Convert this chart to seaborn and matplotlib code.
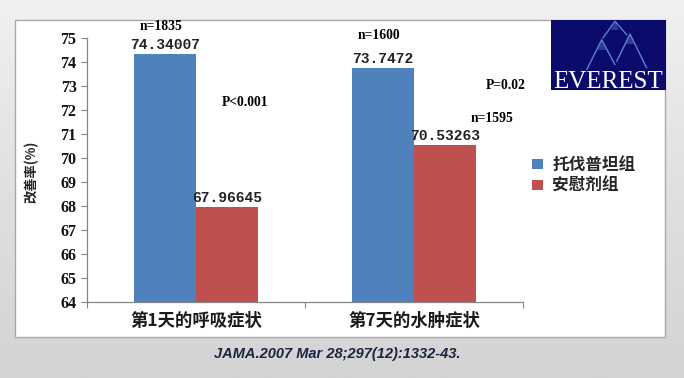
import numpy as np
import pandas as pd
import matplotlib
matplotlib.use("Agg")
import matplotlib.pyplot as plt
import matplotlib.patches as mpatches
from matplotlib.colors import LinearSegmentedColormap
import seaborn as sns

# ---------------- data ----------------
categories = ['第1天的呼吸症状', '第7天的水肿症状']
groups = ['托伐普坦组', '安慰剂组']
tolvaptan_values = [74.34007, 73.7472]
placebo_values = [67.96645, 70.53263]
tolvaptan_n = ['n=1835', 'n=1600']
placebo_n = ['', 'n=1595']
p_labels = ['P<0.001', 'P=0.02']
y_ticks = list(range(64, 76))
y_label = '改善率(%)'
citation = 'JAMA.2007 Mar 28;297(12):1332-43.'
logo_text = 'EVEREST'

df = pd.DataFrame({
    'category': categories * 2,
    'group': [groups[0]] * len(categories) + [groups[1]] * len(categories),
    'value': tolvaptan_values + placebo_values,
})

# ---------------- style ----------------
sns.set_theme(style='white')
plt.rcParams['font.family'] = ['Noto Sans CJK SC', 'DejaVu Sans']

W, H = 684, 378
fig = plt.figure(figsize=(W / 100, H / 100), dpi=100)

def fx(px):
    return px / W

def fy(py):
    return 1 - py / H

# background gradient
bg = fig.add_axes([0, 0, 1, 1], zorder=-10)
grad = np.linspace(0, 1, 256).reshape(-1, 1)
cmap = LinearSegmentedColormap.from_list('bg', ['#f1f1f1', '#e0e0e0', '#d3d3d3'])
bg.imshow(grad, aspect='auto', cmap=cmap, extent=[0, 1, 0, 1], origin='upper')
bg.set_axis_off()

# white panel
panel = mpatches.Rectangle((fx(15), fy(337)), fx(665) - fx(15), fy(20) - fy(337),
                           transform=fig.transFigure, facecolor='white',
                           edgecolor='#a8a8a8', linewidth=1.0, zorder=-5)
fig.patches.append(panel)

# main axes
ax = fig.add_axes([fx(87), fy(302), fx(523) - fx(87), fy(38) - fy(302)])
ax.set_facecolor('none')

blue = '#4F81BD'
red = '#C0504D'
sns.barplot(data=df, x='category', y='value', hue='group', order=categories,
            hue_order=groups, palette=[blue, red], width=0.57, saturation=1,
            linewidth=0, errorbar=None, ax=ax)

ax.set_ylim(64, 75)
ax.set_xlim(-0.5, len(categories) - 0.5)
ax.set_yticks(y_ticks)
ax.set_yticklabels([str(t) for t in y_ticks], family='Liberation Serif',
                   fontweight='bold', fontsize=11.5)
ax.set_xticks(range(len(categories)))
ax.set_xticklabels(categories, fontsize=12.5, fontweight='bold', color='#1a1a1a')
ax.set_xticks(np.arange(-0.5, len(categories)), minor=True)
ax.tick_params(axis='x', which='major', length=0, pad=7)
ax.tick_params(axis='x', which='minor', length=4, width=0.8, color='#868686',
               direction='out', bottom=True)
ax.tick_params(axis='y', which='major', length=4.5, width=0.8, color='#868686',
               direction='out', left=True, pad=3.0, labelcolor='#111111')
for side in ['top', 'right']:
    ax.spines[side].set_visible(False)
for side in ['left', 'bottom']:
    ax.spines[side].set_color('#868686')
    ax.spines[side].set_linewidth(0.9)
ax.set_xlabel('')
ax.set_ylabel(y_label, fontsize=9.5, fontweight='bold', va='center', color='#222222')
ax.yaxis.set_label_coords((31 - 87) / 436, (302 - 172) / 264)

# value labels
for cont, vals in zip(ax.containers, [tolvaptan_values, placebo_values]):
    ax.bar_label(cont, labels=[f'{v}' for v in vals], padding=1.5,
                 family='Liberation Mono', fontweight='bold', fontsize=10.5,
                 color='#222222')

# n labels
n_offsets = {(0, 0): (-2.9, 19.4), (0, 1): (-2.9, 23.4), (1, 1): (33.5, 19.1)}
for gi, (cont, nlabs) in enumerate(zip(ax.containers, [tolvaptan_n, placebo_n])):
    for ci, (bar, lab) in enumerate(zip(cont.patches, nlabs)):
        if not lab:
            continue
        x = bar.get_x() + bar.get_width() / 2
        y = bar.get_height()
        ax.annotate(lab, (x, y), xytext=n_offsets[(gi, ci)], textcoords='offset points',
                    ha='center', va='center', family='Liberation Serif',
                    fontweight='bold', fontsize=9.8, color='black', annotation_clip=False)

# P labels
p_pos = [(0.119, 72.33), (1.330, 73.04)]
for lab, (x, y) in zip(p_labels, p_pos):
    ax.text(x, y, lab, ha='left', va='center', family='Liberation Serif',
            fontweight='bold', fontsize=9.8, color='black')

# legend
handles, labels = ax.get_legend_handles_labels()
ax.legend(handles, labels, loc='upper left', bbox_to_anchor=(fx(532), fy(156)),
          bbox_transform=fig.transFigure, frameon=False,
          handlelength=0.66, handleheight=0.55, handletextpad=0.55,
          labelspacing=0.15, borderpad=0, borderaxespad=0,
          prop={'weight': 'bold', 'size': 12})

# citation
fig.text(fx(337), fy(354), citation, ha='center', va='center', family='Liberation Sans',
         style='italic', fontweight='bold', fontsize=10.5, color='#1c2541')

# logo
lg = fig.add_axes([fx(551), fy(90), fx(666) - fx(551), fy(20) - fy(90)])
lg.set_facecolor('#0b0b6b')
lg.set_xlim(551, 666)
lg.set_ylim(90, 20)
lg.set_xticks([])
lg.set_yticks([])
for s in lg.spines.values():
    s.set_visible(False)
for tri in [[(597, 50), (601.7, 39.7), (606, 50)], [(626, 44), (630, 34), (634, 44)],
            [(611, 30), (615, 21.3), (619, 30)]]:
    lg.add_patch(mpatches.Polygon(tri, closed=True, facecolor='#6f8fdc', edgecolor='none', alpha=0.35))
mountain_lines = [
    [(603, 38), (615, 21.3), (626.7, 34.7)],
    [(586.7, 69.7), (601.7, 39.7), (615, 64.7)],
    [(616.7, 61.3), (630, 34), (646.7, 68)],
]
for pts in mountain_lines:
    xs, ys = zip(*pts)
    lg.plot(xs, ys, color='#5d80d2', lw=1.0, solid_capstyle='round')
lg.text(608.5, 88, logo_text, ha='center', va='baseline', family='Liberation Serif',
        fontsize=18, color='white')

fig.savefig('out.png', dpi=100)
